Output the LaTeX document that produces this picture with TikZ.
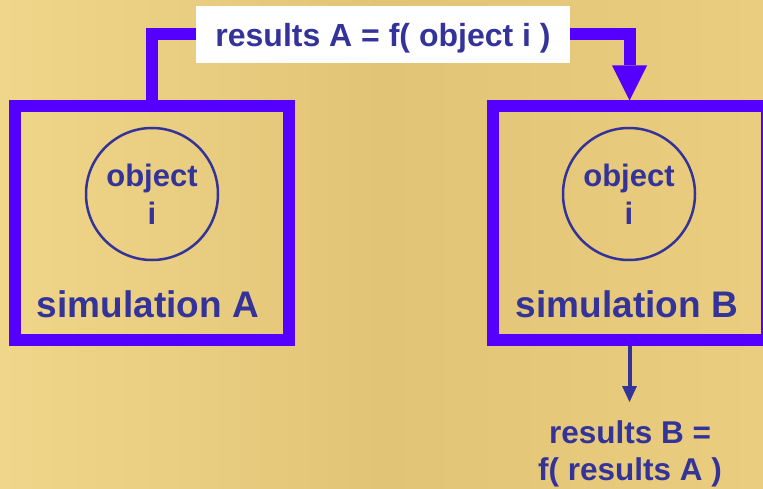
\documentclass[tikz,border=0pt]{standalone}
\usepackage{fontspec}
\setmainfont{Liberation Sans}
\usetikzlibrary{arrows.meta}
\definecolor{lineblue}{RGB}{85,0,255}
\definecolor{textblue}{RGB}{51,51,153}
\definecolor{bgL}{RGB}{240,214,138}
\definecolor{bgM}{RGB}{226,196,118}
\definecolor{bgR}{RGB}{234,205,126}
\begin{document}
\begin{tikzpicture}[x=1pt,y=-1pt,
  frame/.style={draw=lineblue, line width=12pt, minimum width=274pt, minimum height=233pt, inner sep=0pt},
  objcircle/.style={circle, draw=textblue, line width=2.5pt, minimum size=132pt, inner sep=0pt, text=textblue, font=\fontsize{31}{38}\selectfont\bfseries, align=center},
  simlabel/.style={text=textblue, font=\fontsize{37}{44}\selectfont\bfseries, inner sep=0pt, anchor=base},
  titlebox/.style={fill=white, text=textblue, font=\fontsize{32}{38}\selectfont\bfseries, minimum width=374pt, inner sep=0pt, text height=40.7pt, text depth=16pt, anchor=base},
  resultlabel/.style={text=textblue, font=\fontsize{31.5}{37}\selectfont\bfseries, inner sep=0pt, align=center, anchor=base},
  bigconn/.style={draw=lineblue, line width=12pt, line join=miter},
  smallconn/.style={draw=textblue, line width=4pt, -{Triangle[width=15pt,length=16pt,line width=0pt]}},
]
\useasboundingbox (0,0) rectangle (763,489);
\shade[left color=bgL, right color=bgR, middle color=bgM] (0,0) rectangle (763,489);

% frames
\node[frame] (simAbox) at (152,223) {};
\node[frame] (simBbox) at (629.5,223) {};

% objects
\node[objcircle] (objA) at (152,194) {object\\i};
\node[objcircle] (objB) at (629,194) {object\\i};

% simulation labels
\node[simlabel] (simA) at (148,317) {simulation A};
\node[simlabel] (simB) at (627,317) {simulation B};

% title
\node[titlebox] (title) at (383,46.7) {results A = f( object i )};

% big connector
\draw[bigconn] (simAbox.north) |- (title.west);
\draw[bigconn, -{Triangle[width=35pt,length=35pt,line width=0pt]}] (title.east) -| (simBbox.north);

% result B
\coordinate (tipB) at (629.5,402);
\draw[smallconn] (simBbox.south) -- (tipB);
\node[resultlabel] (resB) at (630,480) {results B =\\f( results A )};
\end{tikzpicture}
\end{document}
